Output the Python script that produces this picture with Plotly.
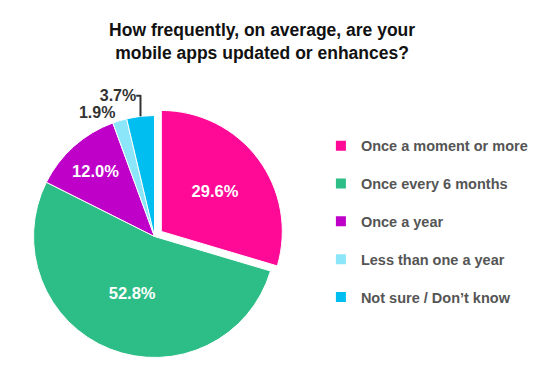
import plotly.graph_objects as go

labels = ["Once a moment or more", "Once every 6 months", "Once a year",
          "Less than one a year", "Not sure / Don\u2019t know"]
values = [29.6, 52.8, 12.0, 1.9, 3.7]
colors = ["#FF0A96", "#2DBE87", "#BE00C8", "#8CE6FA", "#00BEF0"]
pulls = [0.07, 0, 0, 0, 0]
text_pos = ["inside", "inside", "inside", "outside", "outside"]

fig = go.Figure()
fig.add_trace(go.Pie(
    labels=labels, values=values, sort=False, direction="clockwise", rotation=0,
    marker=dict(colors=colors, line=dict(width=1, color="white")),
    pull=pulls, textinfo="percent", texttemplate="%{value:.1f}%",
    textposition=text_pos,
    insidetextfont=dict(color="white", size=16.5, family="Liberation Sans", weight="bold"),
    outsidetextfont=dict(color="#333333", size=16, family="Liberation Sans", weight="bold"),
    domain=dict(x=[0.018, 0.493], y=[0.053, 0.738]),
    showlegend=False, hoverinfo="skip",
))
for lab, col in zip(labels, colors):
    fig.add_trace(go.Scatter(
        x=[None], y=[None], mode="markers", name=lab, legendgroup=lab,
        marker=dict(symbol="square", size=10, color=col),
    ))

fig.update_layout(
    width=556, height=378,
    margin=dict(l=0, r=0, t=0, b=0),
    paper_bgcolor="white", plot_bgcolor="white",
    title=dict(text="How frequently, on average, are your<br>mobile apps updated or enhances?",
               x=0.457, xanchor="center", y=0.925, yanchor="middle",
               font=dict(size=17.5, color="#111111", family="Liberation Sans", weight="bold")),
    xaxis=dict(visible=False), yaxis=dict(visible=False),
    legend=dict(x=0.558, y=0.678, xanchor="left", yanchor="top",
                tracegroupgap=16, itemwidth=30,
                font=dict(size=14.5, color="#555555", family="Liberation Sans", weight="bold")),
)
fig.write_html("out.html")
